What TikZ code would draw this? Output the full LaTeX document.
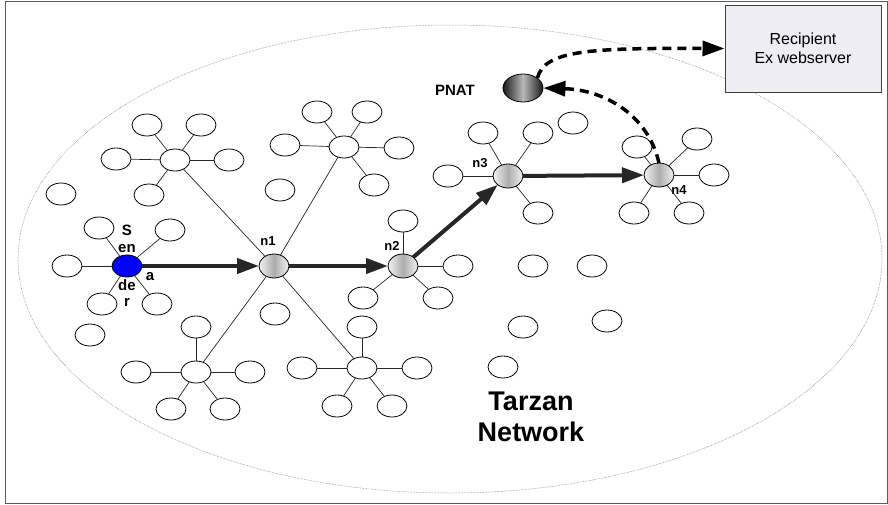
\documentclass[tikz,border=0pt]{standalone}
\usepackage{fontspec}
\setmainfont{Liberation Sans}
\usetikzlibrary{positioning}
\usetikzlibrary{arrows.meta}
\usetikzlibrary{shapes.geometric}

\begin{document}
\begin{tikzpicture}[x=1pt,y=-1pt,>={Triangle[length=22pt,width=15pt]},
	peer/.style={ellipse,draw=black,line width=0.8pt,fill=white,minimum width=30pt,minimum height=22pt,inner sep=0pt,outer sep=0pt},
	relay/.style={peer,minimum height=24pt,left color=gray!10,right color=gray!10,middle color=gray!65},
	spoke/.style={line width=0.7pt,draw=black!85},
	hop/.style={->,line width=4pt,draw=black!85},
	tunnel/.style={->,line width=3.5pt,dash pattern=on 9pt off 6pt},
	lbl/.style={font=\bfseries\fontsize{13}{15}\selectfont,inner sep=0pt}]
	\useasboundingbox (0,0) rectangle (888,504);
	\draw [line width=1pt,draw=black!65] (5,1) rectangle (887,503);
	\draw [line width=0.5pt,draw=black!60,densely dotted] (450,259) ellipse [x radius=432,y radius=234];

	% sender and its neighbours
	\node [peer,fill=blue] at (127,266) (sender) {};
	\node [peer] at (67,266) (s1) {};
	\node [peer] at (99,228) (s2) {};
	\node [peer] at (170,230) (s3) {};
	\node [peer] at (102,304) (s4) {};
	\node [peer] at (157,304) (s5) {};
	\foreach \s in {s1,s2,s3,s4,s5} \draw [spoke] (sender) -- (\s);
	\node [lbl,font=\bfseries\fontsize{15}{17}\selectfont] at (127,230) (sS) {S};
	\node [lbl,font=\bfseries\fontsize{15}{17}\selectfont] at (127,249) (sEn) {en};
	\node [lbl,font=\bfseries\fontsize{15}{17}\selectfont] at (127,285) (sDe) {de};
	\node [lbl,font=\bfseries\fontsize{15}{17}\selectfont] at (127,302) (sR) {r};
	\node [lbl,font=\bfseries\fontsize{15}{17}\selectfont] at (150,277) (sA) {a};

	% clusters round n1
	\node [peer] at (175,160) (ca) {};
	\node [peer] at (116,159) (ca1) {};
	\node [peer] at (147,125) (ca2) {};
	\node [peer] at (201,125) (ca3) {};
	\node [peer] at (229,160) (ca4) {};
	\node [peer] at (149,195) (ca5) {};
	\node [peer] at (344,147) (cb) {};
	\node [peer] at (285,145) (cb1) {};
	\node [peer] at (317,112) (cb2) {};
	\node [peer] at (367,112) (cb3) {};
	\node [peer] at (399,148) (cb4) {};
	\node [peer] at (374,185) (cb5) {};
	\node [peer] at (196,372) (cc) {};
	\node [peer] at (136,372) (cc1) {};
	\node [peer] at (196,327) (cc2) {};
	\node [peer] at (250,372) (cc3) {};
	\node [peer] at (171,409) (cc4) {};
	\node [peer] at (225,409) (cc5) {};
	\node [peer] at (362,368) (cd) {};
	\node [peer] at (302,368) (cd1) {};
	\node [peer] at (362,327) (cd2) {};
	\node [peer] at (417,368) (cd3) {};
	\node [peer] at (337,406) (cd4) {};
	\node [peer] at (392,406) (cd5) {};
	\foreach \h in {ca,cb,cc,cd}
		\foreach \i in {1,...,5} \draw [spoke] (\h) -- (\h\i);

	% relays
	\node [relay] at (274,266) (n1) {};
	\node [relay] at (403,266) (n2) {};
	\node [relay] at (508,176) (n3) {};
	\node [relay] at (659,175) (n4) {};
	\node [lbl] at (268,241) (n1l) {n1};
	\node [lbl] at (392,246) (n2l) {n2};
	\node [lbl] at (480,163) (n3l) {n3};
	\node [lbl] at (679,190) (n4l) {n4};
	\foreach \h in {ca,cb,cc,cd} \draw [spoke] (\h) -- (n1);

	\node [peer] at (403,221) (m1) {};
	\node [peer] at (458,266) (m2) {};
	\node [peer] at (363,298) (m3) {};
	\node [peer] at (438,298) (m4) {};
	\foreach \s in {m1,m2,m3,m4} \draw [spoke] (n2) -- (\s);
	\node [peer] at (483,133) (t1) {};
	\node [peer] at (538,133) (t2) {};
	\node [peer] at (448,176) (t3) {};
	\node [peer] at (538,213) (t4) {};
	\foreach \s in {t1,t2,t3,t4} \draw [spoke] (n3) -- (\s);
	\node [peer] at (637,147) (f1) {};
	\node [peer] at (697,139) (f2) {};
	\node [peer] at (714,175) (f3) {};
	\node [peer] at (634,213) (f4) {};
	\node [peer] at (689,213) (f5) {};
	\foreach \s in {f1,f2,f3,f4,f5} \draw [spoke] (n4) -- (\s);

	% loose peers
	\foreach \x/\y [count=\k] in {61/194,280/190,90/335,275/314,573/123,533/266,592/266,523/327,607/321,503/367}
		\node [peer] at (\x,\y) (p\k) {};

	% exit
	\node [ellipse,draw=black,line width=0.8pt,minimum width=40pt,minimum height=28pt,inner sep=0pt,left color=black!90,right color=black!90,middle color=gray!55] at (523,88) (pnat) {};
	\node [lbl,font=\bfseries\fontsize{15}{17}\selectfont] at (455,90) (pnatl) {PNAT};
	\node [draw=black!75,line width=1pt,fill=blue!20!gray!12,minimum width=156pt,minimum height=87pt,align=center,font=\fontsize{16}{19}\selectfont] at (803,48.5) (recip) {Recipient\\Ex webserver};

	\draw [hop] (sender) -- (n1);
	\draw [hop] (n1) -- (n2);
	\draw [hop] (n2) -- (n3);
	\draw [hop] (n3) -- (n4);
	\draw [tunnel] (n4.north) .. controls (648,115) and (605,90) .. (pnat.east);
	\draw [tunnel] (pnat.north east) .. controls (545,50) and (590,48) .. (recip.west);

	\node [font=\bfseries\fontsize{27}{31}\selectfont,align=center] at (531,417) (tarzan) {Tarzan\\Network};
\end{tikzpicture}
\end{document}
